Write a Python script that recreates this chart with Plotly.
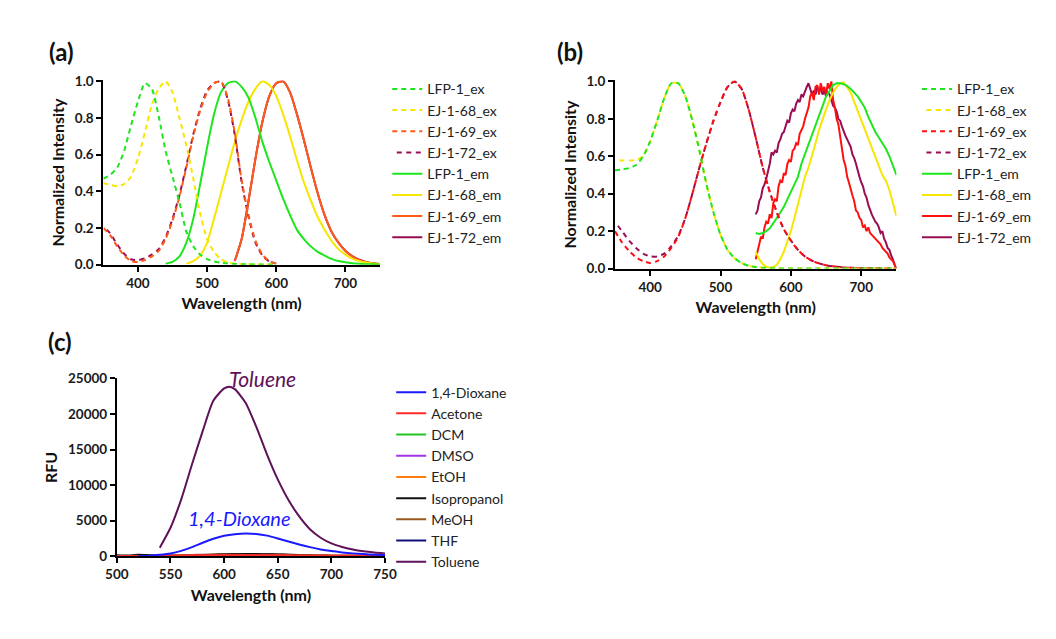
import plotly.graph_objects as go

# ---------------- DATA ----------------
# Panel (a)
wl_a_ex = [350, 360, 370, 380, 390, 400, 410, 420, 430, 440, 450, 460, 470, 480, 490,
           500, 510, 520, 530, 540, 550, 560, 570, 580, 590, 600]
a_lfp1_ex = [0.47, 0.49, 0.53, 0.62, 0.76, 0.89, 0.99, 0.96, 0.81, 0.62, 0.48, 0.34, 0.18, 0.10, 0.055,
             0.03, 0.018, 0.01, 0.006, 0.004, 0.003, 0.002, 0.001, 0.001, 0.001, 0.001]
a_ej68_ex = [0.445, 0.435, 0.428, 0.44, 0.48, 0.58, 0.72, 0.87, 0.96, 1.0, 0.94, 0.80, 0.65, 0.47, 0.28,
             0.14, 0.07, 0.03, 0.012, 0.005, 0.003, 0.002, 0.001, 0.001, 0.001, 0.001]
a_ej69_ex = [0.20, 0.16, 0.10, 0.05, 0.02, 0.015, 0.025, 0.045, 0.075, 0.14, 0.24, 0.37, 0.53, 0.70, 0.84,
             0.94, 0.99, 1.0, 0.91, 0.72, 0.46, 0.27, 0.13, 0.055, 0.02, 0.005]
a_ej72_ex = [0.21, 0.17, 0.11, 0.06, 0.03, 0.025, 0.035, 0.055, 0.085, 0.15, 0.25, 0.38, 0.54, 0.71, 0.85,
             0.95, 0.99, 1.0, 0.90, 0.71, 0.45, 0.26, 0.12, 0.05, 0.018, 0.005]

wl_a_lfp1_em = [440, 450, 460, 470, 480, 490, 500, 510, 520, 530, 540, 550, 560, 570, 580, 590, 600,
                610, 620, 630, 640, 650, 660, 670, 680, 690, 700, 710, 720, 730, 740, 750]
a_lfp1_em = [0.005, 0.015, 0.045, 0.12, 0.25, 0.44, 0.64, 0.82, 0.94, 0.99, 1.0, 0.97, 0.91, 0.80, 0.67,
             0.56, 0.46, 0.36, 0.27, 0.19, 0.14, 0.10, 0.07, 0.05, 0.032, 0.02, 0.013, 0.008, 0.005,
             0.003, 0.002, 0.001]
wl_a_ej68_em = [470, 480, 490, 500, 510, 520, 530, 540, 550, 560, 570, 580, 590, 600, 610, 620, 630,
                640, 650, 660, 670, 680, 690, 700, 710, 720, 730, 740, 750]
a_ej68_em = [0.006, 0.02, 0.05, 0.12, 0.25, 0.39, 0.53, 0.67, 0.79, 0.89, 0.96, 1.0, 0.98, 0.92, 0.82,
             0.70, 0.57, 0.45, 0.35, 0.26, 0.19, 0.13, 0.085, 0.055, 0.033, 0.02, 0.012, 0.007, 0.004]
wl_a_ej69_em = [540, 550, 560, 570, 580, 590, 600, 610, 620, 630, 640, 650, 660, 670, 680, 690, 700,
                710, 720, 730, 740, 750]
a_ej69_em = [0.02, 0.14, 0.35, 0.58, 0.78, 0.92, 0.99, 1.0, 0.94, 0.82, 0.68, 0.53, 0.39, 0.27, 0.18,
             0.12, 0.075, 0.045, 0.025, 0.013, 0.007, 0.003]
a_ej72_em = [0.02, 0.14, 0.35, 0.58, 0.78, 0.92, 0.99, 1.0, 0.94, 0.82, 0.68, 0.53, 0.39, 0.27, 0.18,
             0.12, 0.076, 0.047, 0.027, 0.015, 0.008, 0.004]

# Panel (b)
wl_b_ex = [350, 360, 370, 380, 390, 400, 410, 420, 430, 440, 450, 460, 470, 480, 490, 500, 510, 520,
           530, 540, 550, 560, 570, 580, 590, 600, 610, 620, 630, 640, 650, 660, 670, 680, 690, 700,
           710, 720, 730, 740, 750]
b_lfp1_ex = [0.525, 0.53, 0.537, 0.553, 0.60, 0.68, 0.79, 0.91, 0.99, 0.99, 0.92, 0.79, 0.63, 0.45,
             0.30, 0.18, 0.10, 0.055, 0.03, 0.015, 0.008, 0.004, 0.002, 0.001, 0.001, 0.001, 0.001,
             0.001, 0.001, 0.001, 0.001, 0.001, 0.001, 0.001, 0.001, 0.001, 0.001, 0.001, 0.001,
             0.001, 0.001]
b_ej68_ex = [0.58, 0.578, 0.577, 0.58, 0.60, 0.68, 0.79, 0.91, 0.99, 0.99, 0.92, 0.79, 0.63, 0.45,
             0.30, 0.18, 0.10, 0.055, 0.03, 0.015, 0.008, 0.004, 0.002, 0.001, 0.001, 0.001, 0.001,
             0.001, 0.001, 0.001, 0.001, 0.001, 0.001, 0.001, 0.001, 0.001, 0.001, 0.001, 0.001,
             0.001, 0.001]
b_ej69_ex = [0.20, 0.14, 0.095, 0.06, 0.04, 0.03, 0.04, 0.065, 0.11, 0.17, 0.27, 0.40, 0.54, 0.67,
             0.79, 0.89, 0.97, 1.0, 0.96, 0.85, 0.70, 0.54, 0.41, 0.30, 0.21, 0.15, 0.10, 0.065,
             0.042, 0.028, 0.018, 0.012, 0.008, 0.005, 0.004, 0.003, 0.002, 0.002, 0.001, 0.001, 0.001]
b_ej72_ex = [0.25, 0.20, 0.15, 0.11, 0.08, 0.065, 0.065, 0.08, 0.12, 0.175, 0.27, 0.40, 0.54, 0.67,
             0.79, 0.89, 0.97, 1.0, 0.96, 0.85, 0.70, 0.54, 0.41, 0.30, 0.21, 0.15, 0.10, 0.065,
             0.042, 0.028, 0.018, 0.012, 0.008, 0.005, 0.004, 0.003, 0.002, 0.002, 0.001, 0.001, 0.001]

wl_b_em5 = [550, 555, 560, 565, 570, 575, 580, 585, 590, 595, 600, 605, 610, 615, 620, 625, 630, 635,
            640, 645, 650, 655, 660, 665, 670, 675, 680, 685, 690, 695, 700, 705, 710, 715, 720, 725,
            730, 735, 740, 745, 750]
b_lfp1_em = [0.19, 0.185, 0.19, 0.20, 0.215, 0.24, 0.27, 0.30, 0.33, 0.37, 0.41, 0.45, 0.49, 0.56,
             0.61, 0.67, 0.72, 0.77, 0.82, 0.87, 0.92, 0.95, 0.98, 0.99, 0.99, 0.985, 0.975, 0.96,
             0.94, 0.92, 0.89, 0.86, 0.81, 0.77, 0.73, 0.70, 0.67, 0.64, 0.60, 0.55, 0.50]
b_ej68_em = [0.09, 0.05, 0.025, 0.01, 0.005, 0.008, 0.02, 0.05, 0.09, 0.14, 0.20, 0.27, 0.34, 0.41,
             0.49, 0.54, 0.60, 0.67, 0.74, 0.80, 0.85, 0.90, 0.94, 0.97, 0.99, 0.995, 0.97, 0.94,
             0.89, 0.84, 0.80, 0.75, 0.70, 0.64, 0.59, 0.54, 0.50, 0.47, 0.42, 0.35, 0.28]

wl_b_em25 = [550, 552.5, 555, 557.5, 560, 562.5, 565, 567.5, 570, 572.5, 575, 577.5, 580, 582.5, 585,
             587.5, 590, 592.5, 595, 597.5, 600, 602.5, 605, 607.5, 610, 612.5, 615, 617.5, 620,
             622.5, 625, 627.5, 630, 632.5, 635, 637.5, 640, 642.5, 645, 647.5, 650, 652.5, 655,
             657.5, 660, 662.5, 665, 667.5, 670, 672.5, 675, 677.5, 680, 682.5, 685, 687.5, 690,
             692.5, 695, 697.5, 700, 702.5, 705, 707.5, 710, 712.5, 715, 717.5, 720, 722.5, 725,
             727.5, 730, 732.5, 735, 737.5, 740, 742.5, 745, 747.5, 750]
b_ej69_em = [0.05, 0.10, 0.13, 0.17, 0.16, 0.22, 0.25, 0.24, 0.29, 0.27, 0.35, 0.37, 0.36, 0.44, 0.47,
             0.46, 0.51, 0.50, 0.56, 0.58, 0.57, 0.63, 0.64, 0.67, 0.66, 0.72, 0.74, 0.76, 0.80, 0.83,
             0.86, 0.92, 0.94, 0.90, 0.97, 0.98, 0.93, 0.99, 0.95, 0.97, 0.93, 0.99, 0.96, 1.00, 0.90,
             0.86, 0.80, 0.77, 0.70, 0.65, 0.58, 0.55, 0.49, 0.46, 0.42, 0.39, 0.36, 0.31, 0.30, 0.27,
             0.26, 0.22, 0.23, 0.20, 0.22, 0.19, 0.18, 0.17, 0.16, 0.15, 0.14, 0.13, 0.11, 0.10, 0.09,
             0.08, 0.06, 0.05, 0.04, 0.02, 0.00]
b_ej72_em = [0.29, 0.31, 0.36, 0.38, 0.43, 0.45, 0.48, 0.52, 0.56, 0.62, 0.61, 0.63, 0.62, 0.67, 0.69,
             0.72, 0.73, 0.76, 0.79, 0.78, 0.83, 0.85, 0.84, 0.88, 0.90, 0.89, 0.93, 0.92, 0.95, 0.97,
             0.99, 0.96, 0.93, 0.95, 0.93, 0.97, 0.95, 0.96, 0.93, 0.95, 0.92, 0.94, 0.93, 0.90, 0.87,
             0.86, 0.84, 0.80, 0.79, 0.76, 0.73, 0.71, 0.69, 0.67, 0.65, 0.61, 0.59, 0.56, 0.52, 0.49,
             0.46, 0.44, 0.40, 0.38, 0.34, 0.31, 0.29, 0.27, 0.25, 0.24, 0.22, 0.19, 0.20, 0.16, 0.14,
             0.11, 0.10, 0.07, 0.05, 0.02, 0.00]

# Panel (c)
wl_c = [500, 510, 520, 530, 540, 550, 560, 570, 580, 590, 600, 610, 620, 630, 640, 650, 660, 670,
        680, 690, 700, 710, 720, 730, 740, 750]
wl_c_tol = [540, 550, 560, 570, 580, 590, 600, 605, 610, 620, 630, 640, 650, 660, 670, 680, 690, 700,
            710, 720, 730, 740, 750]
c_toluene = [1200, 4000, 8000, 12900, 17600, 21900, 23600, 23850, 23500, 21600, 18200, 14300, 10800,
             7900, 5600, 3800, 2600, 1800, 1300, 950, 700, 530, 400]
wl_c_diox = [520, 530, 540, 550, 560, 570, 580, 590, 600, 610, 620, 630, 640, 650, 660, 670, 680, 690,
             700, 710, 720, 730, 740, 750]
c_dioxane = [30, 80, 200, 380, 750, 1280, 1900, 2450, 2870, 3100, 3200, 3130, 2900, 2500, 2060, 1650,
             1280, 960, 720, 540, 400, 300, 220, 160]
c_acetone = [20, 20, 30, 40, 60, 80, 100, 120, 130, 140, 150, 150, 150, 145, 140, 130, 120, 110, 100,
             90, 80, 70, 60, 55, 50, 45]
c_dcm = [10, 10, 10, 15, 15, 20, 20, 25, 25, 30, 30, 30, 30, 30, 25, 25, 20, 20, 15, 15, 10, 10, 10,
         10, 10, 10]
c_dmso = [20, 20, 25, 30, 35, 40, 45, 50, 55, 60, 60, 60, 60, 55, 50, 45, 40, 35, 30, 25, 20, 20, 15,
          15, 15, 15]
c_etoh = [15, 15, 20, 25, 30, 40, 50, 60, 70, 80, 90, 95, 100, 100, 95, 90, 85, 80, 75, 70, 70, 80,
          100, 130, 170, 220]
c_isoprop = [150, 100, 200, 150, 80, 60, 80, 100, 150, 200, 250, 280, 300, 300, 280, 250, 200, 150,
             120, 100, 80, 60, 50, 40, 30, 20]
c_meoh = [40, 40, 50, 60, 80, 100, 130, 170, 210, 250, 280, 300, 310, 300, 280, 250, 210, 170, 130,
          100, 80, 60, 50, 40, 30, 25]
c_thf = [20, 20, 25, 30, 40, 50, 60, 70, 80, 90, 100, 100, 100, 95, 90, 80, 70, 60, 50, 45, 40, 35,
         30, 30, 25, 25]

x_ticks_ab = [400, 500, 600, 700]
y_ticks_ab = [0.0, 0.2, 0.4, 0.6, 0.8, 1.0]
x_ticks_c = [500, 550, 600, 650, 700, 750]
y_ticks_c = [0, 5000, 10000, 15000, 20000, 25000]

# ---------------- STYLE ----------------
W, H = 1056, 639
GREEN = "#1ee61e"
YELLOW = "#f7e600"
ORANGE = "#ff5a1a"
RED = "#ff1010"
MAROON = "#990d52"
FONT = "Lato"


def fx(p):
    return p / W


def fy(p):
    return 1 - p / H


fig = go.Figure()

DASH_A = "5px,4px"
DASH_B = "0px,4.5px,5px,0px"


def add(x, y, name, color, dash, xa, ya, leg, rank, lw=2, shape="spline"):
    fig.add_trace(go.Scatter(
        x=x, y=y, name=name, mode="lines",
        line=dict(color=color, width=lw, dash=dash, shape=shape, smoothing=0.6),
        xaxis=xa, yaxis=ya, legend=leg, legendgroup=leg + name, legendrank=rank))


# Panel (a) - drawn in reverse so the first legend entry is on top
a_series = [
    (wl_a_ex, a_lfp1_ex, "LFP-1_ex", GREEN, DASH_A),
    (wl_a_ex, a_ej68_ex, "EJ-1-68_ex", YELLOW, DASH_A),
    (wl_a_ex, a_ej69_ex, "EJ-1-69_ex", ORANGE, DASH_A),
    (wl_a_ex, a_ej72_ex, "EJ-1-72_ex", MAROON, DASH_B),
    (wl_a_lfp1_em, a_lfp1_em, "LFP-1_em", GREEN, "solid"),
    (wl_a_ej68_em, a_ej68_em, "EJ-1-68_em", YELLOW, "solid"),
    (wl_a_ej69_em, a_ej69_em, "EJ-1-69_em", ORANGE, "solid"),
    (wl_a_ej69_em, a_ej72_em, "EJ-1-72_em", MAROON, "solid"),
]
for i in reversed(range(len(a_series))):
    x, y, n, c, d = a_series[i]
    add(x, y, n, c, d, "x", "y", "legend", 100 + i)

b_series = [
    (wl_b_ex, b_lfp1_ex, "LFP-1_ex", GREEN, DASH_A, "spline"),
    (wl_b_ex, b_ej68_ex, "EJ-1-68_ex", YELLOW, DASH_B, "spline"),
    (wl_b_ex, b_ej69_ex, "EJ-1-69_ex", RED, DASH_A, "spline"),
    (wl_b_ex, b_ej72_ex, "EJ-1-72_ex", MAROON, DASH_B, "spline"),
    (wl_b_em5, b_lfp1_em, "LFP-1_em", GREEN, "solid", "linear"),
    (wl_b_em5, b_ej68_em, "EJ-1-68_em", YELLOW, "solid", "linear"),
    (wl_b_em25, b_ej69_em, "EJ-1-69_em", RED, "solid", "linear"),
    (wl_b_em25, b_ej72_em, "EJ-1-72_em", MAROON, "solid", "linear"),
]
for i in reversed(range(len(b_series))):
    x, y, n, c, d, s = b_series[i]
    add(x, y, n, c, d, "x2", "y2", "legend2", 100 + i, shape=s)

c_series = [
    (wl_c_diox, c_dioxane, "1,4-Dioxane", "#1a1aff"),
    (wl_c, c_acetone, "Acetone", "#ff2a2a"),
    (wl_c, c_dcm, "DCM", "#22c422"),
    (wl_c, c_dmso, "DMSO", "#a035e6"),
    (wl_c, c_etoh, "EtOH", "#ff7f0e"),
    (wl_c, c_isoprop, "Isopropanol", "#111111"),
    (wl_c, c_meoh, "MeOH", "#9a5a1e"),
    (wl_c, c_thf, "THF", "#10107a"),
    (wl_c_tol, c_toluene, "Toluene", "#5e1259"),
]
for i in reversed(range(len(c_series))):
    x, y, n, c = c_series[i]
    add(x, y, n, c, "solid", "x3", "y3", "legend3", 100 + i)

axis_common = dict(
    showline=True, linecolor="black", linewidth=2, ticks="outside", ticklen=5,
    tickwidth=2, tickcolor="black", showgrid=False, zeroline=False,
    tickfont=dict(family=FONT, size=13.5, color="#1a1a1a", weight="bold"),
)
title_font = dict(family=FONT, size=16, color="#111111", weight="bold")

legend_common = dict(
    xanchor="left", yanchor="top", bgcolor="rgba(0,0,0,0)", traceorder="grouped",
    font=dict(family=FONT, size=14, color="#222222"), itemwidth=30, tracegroupgap=0,
)

fig.update_layout(
    width=W, height=H, margin=dict(l=0, r=0, t=0, b=0),
    paper_bgcolor="white", plot_bgcolor="white",
    xaxis=dict(domain=[fx(93.5), fx(376.5)], range=[350, 750], tickvals=x_ticks_ab,
               anchor="y", title=dict(text="Wavelength (nm)", font=title_font, standoff=8),
               **axis_common),
    yaxis=dict(domain=[fy(263.3), fy(74.3)], range=[0, 1.005], tickvals=y_ticks_ab,
               tickformat=".1f", anchor="x",
               title=dict(text="Normalized Intensity", font=title_font, standoff=6),
               **axis_common),
    xaxis2=dict(domain=[fx(617), fx(905)], range=[350, 750], tickvals=x_ticks_ab,
                anchor="y2", title=dict(text="Wavelength (nm)", font=title_font, standoff=8),
                **axis_common),
    yaxis2=dict(domain=[fy(267.3), fy(74.3)], range=[0, 1.005], tickvals=y_ticks_ab,
                tickformat=".1f", anchor="x2",
                title=dict(text="Normalized Intensity", font=title_font, standoff=6),
                **axis_common),
    xaxis3=dict(domain=[fx(107.3), fx(381.7)], range=[500, 750], tickvals=x_ticks_c,
                anchor="y3", title=dict(text="Wavelength (nm)", font=title_font, standoff=8),
                **axis_common),
    yaxis3=dict(domain=[fy(562.3), fy(380)], range=[0, 25000], tickvals=y_ticks_c,
                tickformat="d", anchor="x3",
                title=dict(text="RFU", font=title_font, standoff=6),
                **axis_common),
    legend=dict(x=fx(384), y=fy(67), **legend_common),
    legend2=dict(x=fx(926), y=fy(67), **legend_common),
    legend3=dict(x=fx(388), y=fy(378), **legend_common),
    showlegend=True,
)

panel_font = dict(family=FONT, size=24, color="#111111", weight="bold")
for txt, px, py in [("(a)", 36, 45), ("(b)", 556, 45), ("(c)", 35, 342)]:
    fig.add_annotation(text=txt, x=fx(px), y=fy(py), xref="paper", yref="paper",
                       xanchor="left", yanchor="middle", showarrow=False, font=panel_font)

fig.add_annotation(text="<i>Toluene</i>", x=636, y=25000, xref="x3", yref="y3", showarrow=False,
                   xanchor="center", yanchor="middle",
                   font=dict(family=FONT, size=21, color="#5e1259"))
fig.add_annotation(text="<i>1,4-Dioxane</i>", x=614, y=5320, xref="x3", yref="y3", showarrow=False,
                   xanchor="center", yanchor="middle",
                   font=dict(family=FONT, size=20, color="#1a1aff"))

fig.write_html("out.html")
